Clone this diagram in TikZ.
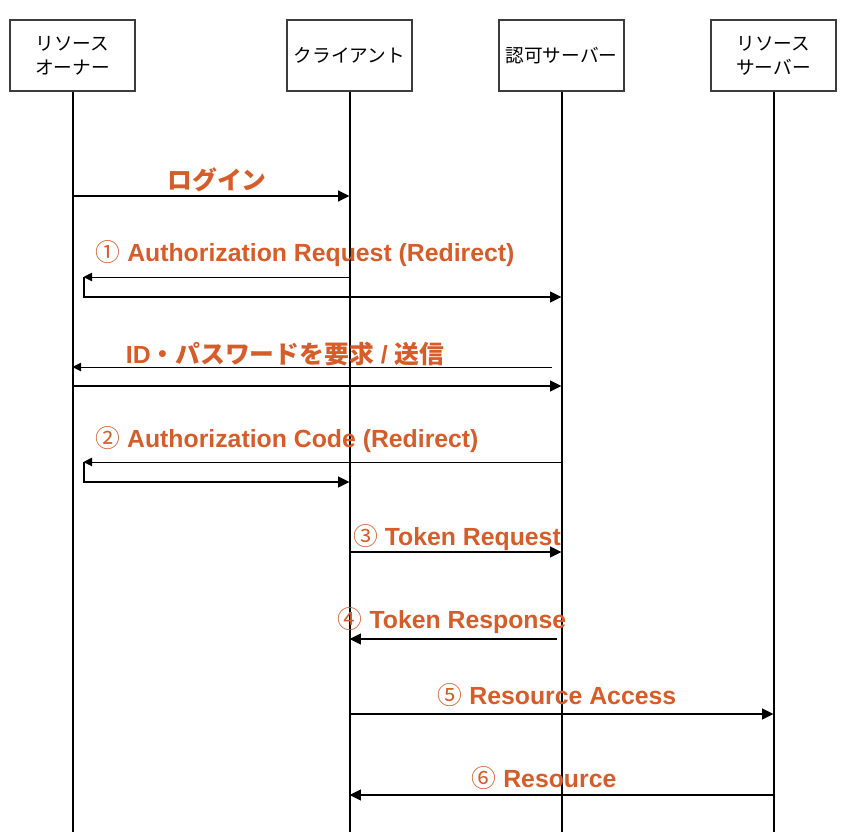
\documentclass[tikz,border=0pt]{standalone}
\usepackage{fontspec}
\setmainfont{Liberation Sans}
\newfontfamily\jpfont{Noto Sans CJK JP}
\usetikzlibrary{arrows.meta}

\definecolor{labelorange}{RGB}{214,92,42}

\tikzset{every picture/.style={line width=0.75pt}}
\tikzset{
  actorbox/.style={draw={rgb,255:red,60;green,60;blue,60}, line width=1.5pt, minimum width=93.75pt, minimum height=53pt, align=center, inner sep=0pt, font=\jpfont\fontsize{14}{18}\selectfont},
  lifeline/.style={line width=1.5pt},
  msgthick/.style={line width=1.5pt, -{Triangle[length=8.5pt,width=8pt]}},
  msgthin/.style={line width=0.75pt, -{Triangle[length=6.5pt,width=6.5pt]}},
  msglabel/.style={text=labelorange, font=\bfseries\fontsize{18.6}{22}\selectfont, inner sep=0pt}
}
\newcommand{\jp}[1]{{\jpfont\bfseries #1}}
\newcommand{\circnum}[1]{{\jpfont\mdseries #1}}

\begin{document}
\begin{tikzpicture}[x=0.75pt,y=0.75pt,yscale=-1,xscale=1]
	\useasboundingbox (0,0) rectangle (852,832);
	
	% Actors
	\node[actorbox] (owner) at (72.5,55.5) {リソース\\オーナー};
	\node[actorbox] (client) at (349.5,55.5) {クライアント};
	\node[actorbox] (auth) at (561.5,55.5) {認可サーバー};
	\node[actorbox] (res) at (773.5,55.5) {リソース\\サーバー};
	
	% Lifelines
	\coordinate (ownerend) at (owner |- 0,832);
	\coordinate (clientend) at (client |- 0,832);
	\coordinate (authend) at (auth |- 0,832);
	\coordinate (resend) at (res |- 0,832);
	\draw[lifeline] (owner.south) -- (ownerend);
	\draw[lifeline] (client.south) -- (clientend);
	\draw[lifeline] (auth.south) -- (authend);
	\draw[lifeline] (res.south) -- (resend);
	
	% Login
	\draw[msgthick] (owner |- 0,196) -- (client |- 0,196);
	\node[msglabel] (login) at (217,180) {\jp{ログイン}};
	
	% (1) Authorization Request
	\coordinate (redir1) at ([xshift=8.25pt]owner |- 0,277);
	\draw[msgthin] (client |- 0,277) -- (redir1);
	\draw[msgthick] (redir1) -- (redir1 |- 0,297) -- (auth |- 0,297);
	\node[msglabel] (areq) at (305,254) {\circnum{①} Authorization Request (Redirect)};
	
	% ID / Password
	\draw[msgthin] ([xshift=-7.5pt]auth |- 0,367) -- (owner |- 0,367);
	\draw[msgthick] (owner |- 0,386) -- (auth |- 0,386);
	\node[msglabel] (idpw) at (285,354) {ID\jp{・パスワードを要求} / \jp{送信}};
	
	% (2) Authorization Code
	\coordinate (redir2) at ([xshift=8.25pt]owner |- 0,462);
	\draw[msgthin] (auth |- 0,462) -- (redir2);
	\draw[msgthick] (redir2) -- (redir2 |- 0,482) -- (client |- 0,482);
	\node[msglabel] (acode) at (287,440) {\circnum{②} Authorization Code (Redirect)};
	
	% (3) Token Request
	\draw[msgthick] (client |- 0,552) -- (auth |- 0,552);
	\node[msglabel] (treq) at (457,538) {\circnum{③} Token Request};
	
	% (4) Token Response
	\draw[msgthick] ([xshift=-3.75pt]auth |- 0,639) -- (client |- 0,639);
	\node[msglabel] (tres) at (452,621) {\circnum{④} Token Response};
	
	% (5) Resource Access
	\draw[msgthick] (client |- 0,714) -- (res |- 0,714);
	\node[msglabel] (racc) at (557,695) {\circnum{⑤} Resource Access};
	
	% (6) Resource
	\draw[msgthick] (res |- 0,795) -- (client |- 0,795);
	\node[msglabel] (rsrc) at (544,778) {\circnum{⑥} Resource};
	
\end{tikzpicture}
\end{document}
